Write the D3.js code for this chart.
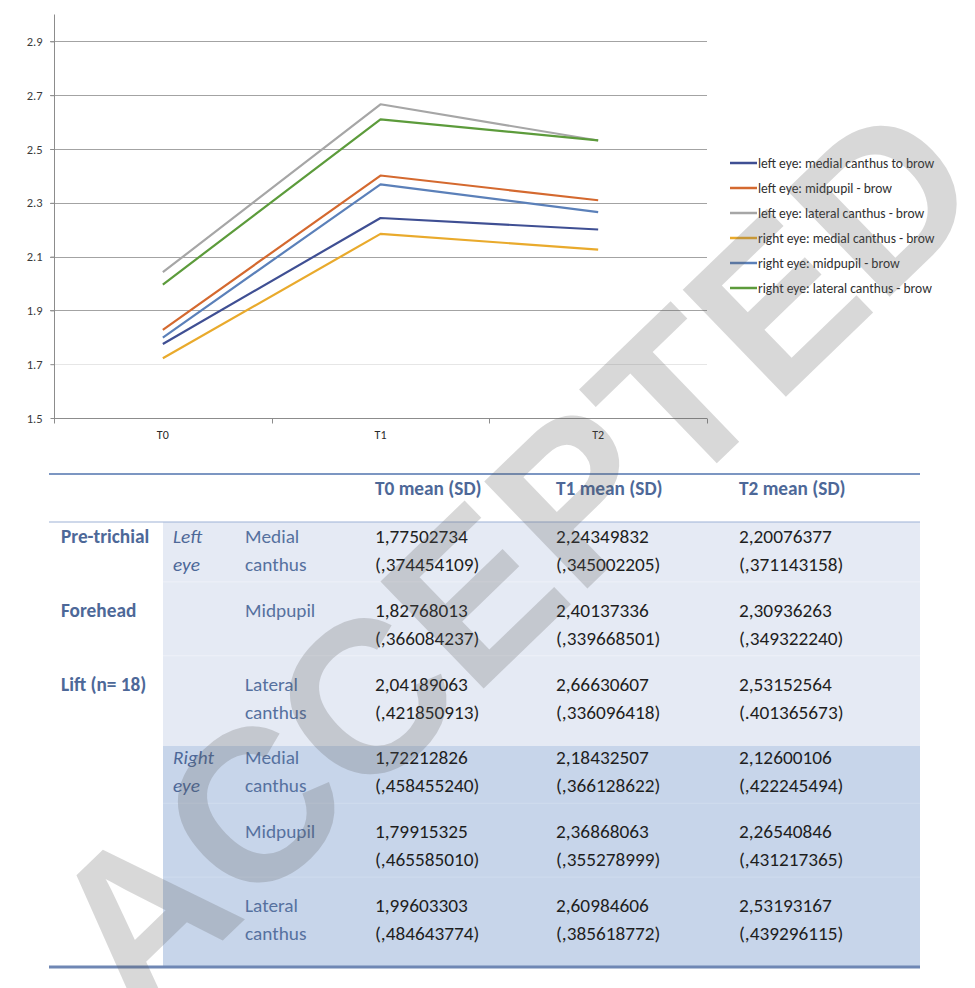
<!DOCTYPE html>
<html>
<head>
<meta charset="utf-8">
<script src="https://cdn.jsdelivr.net/npm/d3@7"></script>
<style>
  html, body { margin: 0; padding: 0; background: #ffffff; }
  svg { display: block; }
</style>
</head>
<body>
<div id="chart"></div>
<script>
// ---------------- DATA ----------------
const categories = ["T0", "T1", "T2"];
const seriesNames = [
  "left eye: medial canthus to brow",
  "left eye: midpupil - brow",
  "left eye: lateral canthus - brow",
  "right eye: medial canthus - brow",
  "right eye: midpupil - brow",
  "right eye: lateral canthus - brow"
];
const leftMedial   = [1.77502734, 2.24349832, 2.20076377];
const leftMidpupil = [1.82768013, 2.40137336, 2.30936263];
const leftLateral  = [2.04189063, 2.66630607, 2.53152564];
const rightMedial   = [1.72212826, 2.18432507, 2.12600106];
const rightMidpupil = [1.79915325, 2.36868063, 2.26540846];
const rightLateral  = [1.99603303, 2.60984606, 2.53193167];
const yTicks = [1.5, 1.7, 1.9, 2.1, 2.3, 2.5, 2.7, 2.9];
const yTickLabels = ["1.5", "1.7", "1.9", "2.1", "2.3", "2.5", "2.7", "2.9"];

// table
const tableHeaders = ["T0 mean (SD)", "T1 mean (SD)", "T2 mean (SD)"];
const groupLabels = ["Pre-trichial", "Forehead", "Lift (n= 18)"];
const eyeLabels = [["Left", "eye"], ["Right", "eye"]];
const siteLabels = [["Medial", "canthus"], ["Midpupil"], ["Lateral", "canthus"]];
const sdLeftMedial    = ["(,374454109)", "(,345002205)", "(,371143158)"];
const sdLeftMidpupil  = ["(,366084237)", "(,339668501)", "(,349322240)"];
const sdLeftLateral   = ["(,421850913)", "(,336096418)", "(.401365673)"];
const sdRightMedial   = ["(,458455240)", "(,366128622)", "(,422245494)"];
const sdRightMidpupil = ["(,465585010)", "(,355278999)", "(,431217365)"];
const sdRightLateral  = ["(,484643774)", "(,385618772)", "(,439296115)"];
const watermarkText = "ACCEPTED";

// ---------------- BUILD ----------------
const series = [leftMedial, leftMidpupil, leftLateral, rightMedial, rightMidpupil, rightLateral];
const sds = [sdLeftMedial, sdLeftMidpupil, sdLeftLateral, sdRightMedial, sdRightMidpupil, sdRightLateral];
const colors = ["#3f4f93", "#d4692f", "#a6a6a6", "#e9aa2c", "#5b80b9", "#5c9b3b"];

const W = 975, H = 988;
const FONT = "Carlito, Calibri, Lato, 'Open Sans', sans-serif";
const svg = d3.select("#chart").append("svg")
  .attr("width", W).attr("height", H)
  .attr("viewBox", `0 0 ${W} ${H}`);

// ---- chart ----
const plot = { left: 54, right: 707, top: 14.5, bottom: 418 };
const x = d3.scaleBand().domain(categories).range([plot.left, plot.right]);
const y = d3.scaleLinear().domain([1.5, 3.0]).range([plot.bottom, plot.top]);

const chart = svg.append("g").attr("class", "chart");

// gridlines
chart.append("g").selectAll("line")
  .data(yTicks.filter(t => t > 1.5))
  .join("line")
  .attr("x1", plot.left - 4).attr("x2", plot.right)
  .attr("y1", d => Math.round(y(d)) + 0.5).attr("y2", d => Math.round(y(d)) + 0.5)
  .attr("stroke", d => d === 1.7 ? "#e6e6e6" : "#a3a3a3")
  .attr("stroke-width", 1);

// y axis (labels + ticks)
const yAxis = d3.axisLeft(y).tickValues(yTicks)
  .tickFormat((d, i) => yTickLabels[i]).tickSize(4).tickPadding(8);
const yg = chart.append("g").attr("transform", `translate(${plot.left + 0.5},0)`).call(yAxis);
yg.select(".domain").attr("stroke", "#8c8c8c").attr("d", `M-0,${plot.bottom + 4}V${plot.top}`);
yg.selectAll(".tick line").attr("stroke", "#8c8c8c");
yg.selectAll(".tick text").attr("font-family", FONT).attr("font-size", 12.5).attr("fill", "#3a3a3a");

// x axis
const xAxis = d3.axisBottom(x).tickSize(0).tickPadding(12);
const xg = chart.append("g").attr("transform", `translate(0,${Math.round(plot.bottom) + 0.5})`).call(xAxis);
xg.select(".domain").attr("stroke", "#8c8c8c").attr("d", `M${plot.left},0H${plot.right}`);
xg.selectAll(".tick text").attr("font-family", FONT).attr("font-size", 12).attr("fill", "#2a2a2a");
const boundaries = [plot.left].concat(categories.map(c => x(c) + x.bandwidth()));
xg.append("g").selectAll("line").data(boundaries).join("line")
  .attr("x1", d => Math.round(d) + 0.5).attr("x2", d => Math.round(d) + 0.5)
  .attr("y1", 0).attr("y2", 5).attr("stroke", "#8c8c8c");

// lines
const line = d3.line().x((d, i) => x(categories[i]) + x.bandwidth() / 2).y(d => y(d));
chart.append("g").selectAll("path").data(series).join("path")
  .attr("d", d => line(d))
  .attr("fill", "none")
  .attr("stroke", (d, i) => colors[i])
  .attr("stroke-width", 2.2)
  .attr("stroke-linejoin", "round");

// legend
const legendY = d3.scaleLinear().domain([0, 5]).range([163, 288]);
const lg = chart.append("g").selectAll("g").data(seriesNames).join("g")
  .attr("transform", (d, i) => `translate(730,${legendY(i)})`);
lg.append("line").attr("x1", 0).attr("x2", 27).attr("y1", 0).attr("y2", 0)
  .attr("stroke", (d, i) => colors[i]).attr("stroke-width", 2.5);
lg.append("text").attr("x", 28).attr("y", 0).attr("dy", "0.35em")
  .attr("font-family", FONT).attr("font-size", 13.5).attr("fill", "#2f2f2f")
  .text(d => d);

// ---- table ----
const tbl = svg.append("g").attr("class", "table");
const tLeft = 49, tRight = 920;
const colX = [61, 173, 245, 375, 556, 739];
const rowBase = d3.scaleLinear().domain([0, 5]).range([543, 912]);
const lineGap = 28;
const blockTop = 522, blockMid = 746, blockBottom = 967;
const TFS = 19.3;
const labelBlue = "#4d6898";

// backgrounds
tbl.append("rect").attr("x", 163).attr("y", blockTop).attr("width", tRight - 163).attr("height", blockMid - blockTop).attr("fill", "#e5eaf4");
tbl.append("rect").attr("x", 163).attr("y", blockMid).attr("width", tRight - 163).attr("height", blockBottom - blockMid).attr("fill", "#c7d5ea");
// faint row separators
const sepYs = [1, 2, 4, 5].map(i => (rowBase(i - 1) + rowBase(i)) / 2 + 2);
tbl.append("g").selectAll("line").data(sepYs).join("line")
  .attr("x1", 163).attr("x2", tRight)
  .attr("y1", d => d).attr("y2", d => d)
  .attr("stroke", (d, i) => i < 2 ? "#eef1f8" : "#d0dcee").attr("stroke-width", 1);

// rules
tbl.append("line").attr("x1", tLeft).attr("x2", tRight).attr("y1", 474).attr("y2", 474).attr("stroke", "#7c96c2").attr("stroke-width", 2);
tbl.append("line").attr("x1", tLeft).attr("x2", tRight).attr("y1", blockTop).attr("y2", blockTop).attr("stroke", "#9db1d5").attr("stroke-width", 1.2);
tbl.append("line").attr("x1", tLeft).attr("x2", tRight).attr("y1", blockBottom).attr("y2", blockBottom).attr("stroke", "#6f87b4").attr("stroke-width", 2.8);

// header
tbl.append("g").selectAll("text").data(tableHeaders).join("text")
  .attr("x", (d, i) => colX[3 + i]).attr("y", 495)
  .attr("font-family", FONT).attr("font-size", TFS).attr("font-weight", "bold").attr("fill", labelBlue)
  .text(d => d);

// group labels (first col)
tbl.append("g").selectAll("text").data(groupLabels).join("text")
  .attr("x", colX[0]).attr("y", (d, i) => rowBase(i))
  .attr("font-family", FONT).attr("font-size", TFS).attr("font-weight", "bold").attr("fill", labelBlue)
  .text(d => d);

// eye labels
eyeLabels.forEach((lbl, e) => {
  tbl.append("text").attr("x", colX[1]).attr("y", rowBase(e * 3))
    .attr("font-family", FONT).attr("font-size", TFS).attr("font-style", "italic").attr("fill", labelBlue)
    .selectAll("tspan").data(lbl).join("tspan")
    .attr("x", colX[1]).attr("dy", (d, i) => i === 0 ? 0 : lineGap).text(d => d);
});

// site labels and values
for (let r = 0; r < 6; r++) {
  const site = siteLabels[r % 3];
  tbl.append("text").attr("x", colX[2]).attr("y", rowBase(r))
    .attr("font-family", FONT).attr("font-size", TFS).attr("fill", "#56719f")
    .selectAll("tspan").data(site).join("tspan")
    .attr("x", colX[2]).attr("dy", (d, i) => i === 0 ? 0 : lineGap).text(d => d);
  for (let c = 0; c < 3; c++) {
    const mean = series[r][c].toFixed(8).replace(".", ",");
    tbl.append("text").attr("x", colX[3 + c]).attr("y", rowBase(r))
      .attr("font-family", FONT).attr("font-size", TFS).attr("fill", "#1e1e1e")
      .selectAll("tspan").data([mean, sds[r][c]]).join("tspan")
      .attr("x", colX[3 + c]).attr("dy", (d, i) => i === 0 ? 0 : lineGap).text(d => d);
  }
}

// ---- watermark ----
svg.append("text")
  .attr("transform", "translate(510,555) rotate(-44)")
  .attr("text-anchor", "middle").attr("dy", "0.36em")
  .attr("font-family", "'Liberation Sans', Arial, sans-serif")
  .attr("font-weight", "bold").attr("font-size", 216)
  .attr("fill", "#5c5c5c").attr("fill-opacity", 0.24)
  .text(watermarkText);
</script>
</body>
</html>
